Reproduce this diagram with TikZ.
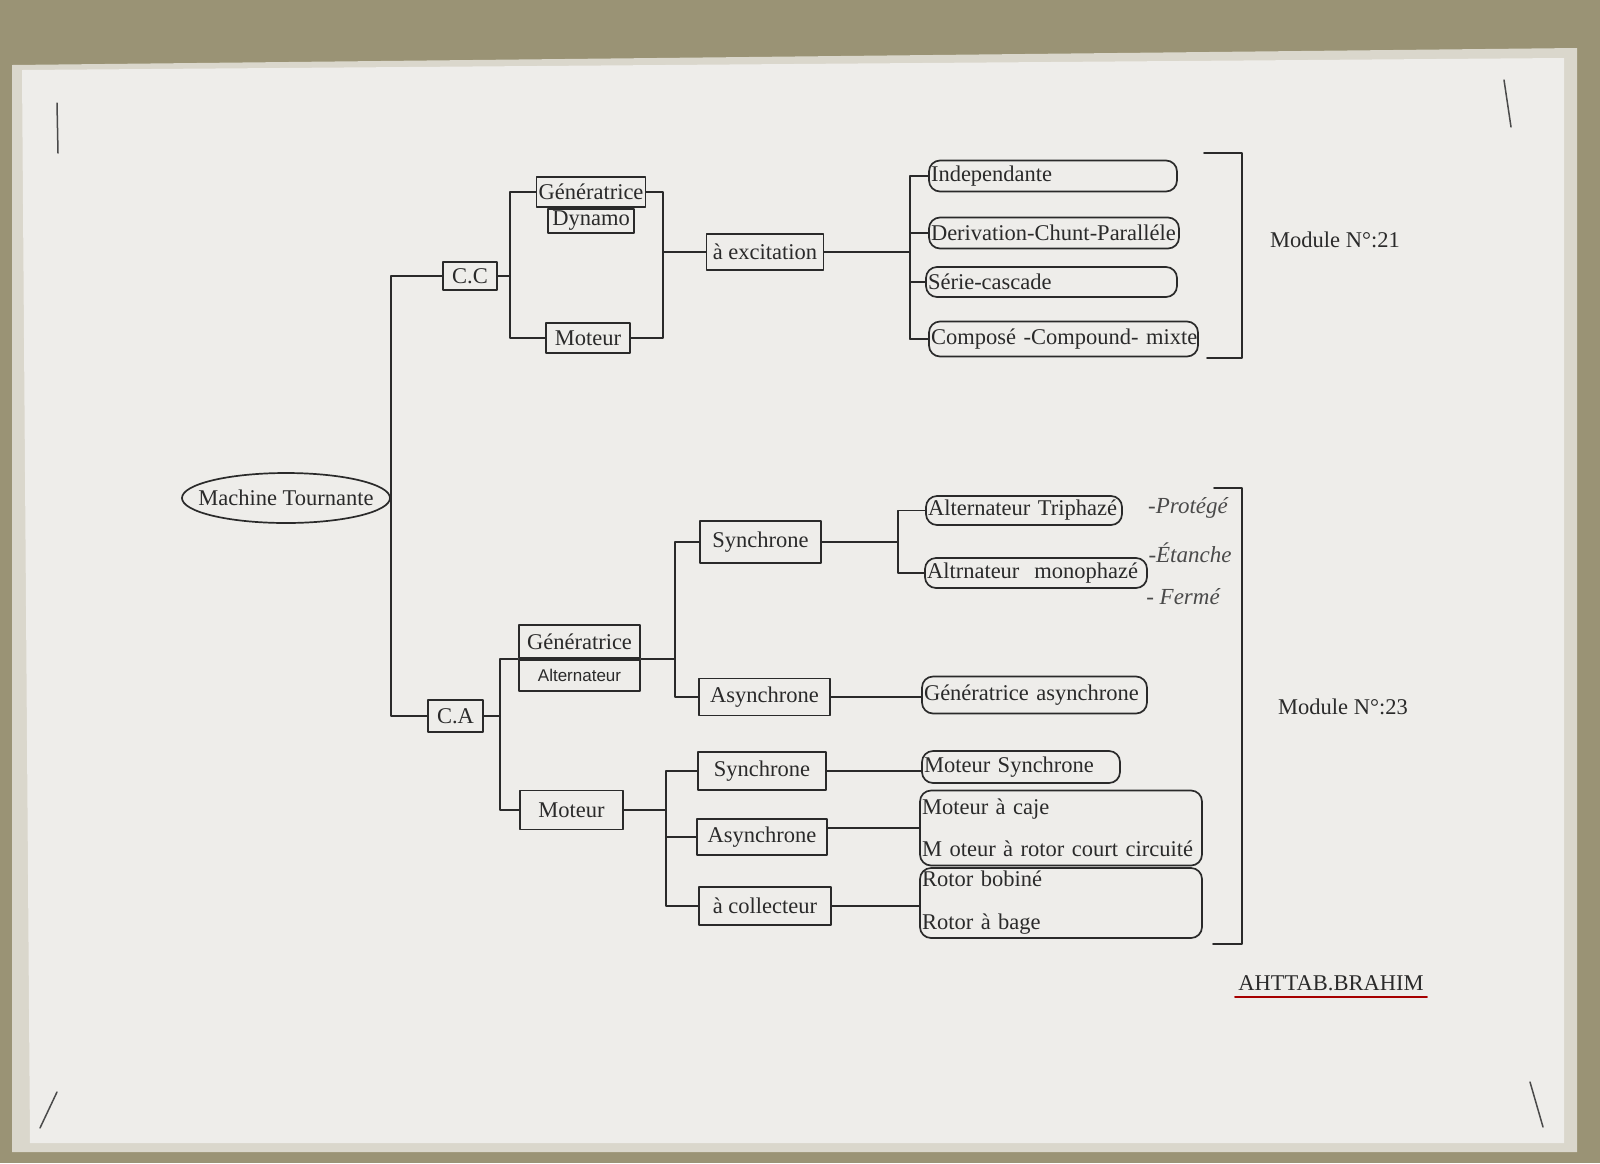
\documentclass[tikz,border=0pt]{standalone}
\usepackage{fontspec}
\setmainfont{Liberation Serif}
\setsansfont{Liberation Sans}
\usetikzlibrary{positioning,shapes.geometric}
\definecolor{ink}{HTML}{2A2A2A}
\definecolor{sheet}{HTML}{EEEDEA}
\definecolor{band}{HTML}{DAD7CC}
\definecolor{frame}{HTML}{9A9375}
\definecolor{pencil}{HTML}{4A4A4A}
\exhyphenpenalty=10000
\hyphenpenalty=10000

\begin{document}
\begin{tikzpicture}[x=1pt,y=-1pt,line cap=round,line join=round,
  every node/.style={font=\fontsize{22.5}{27}\selectfont,text=ink},
  lbl/.style={draw=ink,line width=1.7pt,inner sep=2pt},
  sq/.style 2 args={lbl,minimum width=#1,minimum height=#2},
  rnd/.style 2 args={lbl,rounded corners=11pt,align=left,inner xsep=2pt,text width=#1,minimum height=#2},
  wire/.style={draw=ink,line width=1.8pt},
  note/.style={font=\itshape\fontsize{23}{26}\selectfont,text=pencil}]
  \useasboundingbox (0,0) rectangle (1600,1163);
  % paper
  \fill[frame] (0,0) rectangle (1600,1163);
  \fill[band] (12,65) -- (1577,48) -- (1577,1152) -- (12,1152) -- cycle;
  \fill[sheet] (22,70) -- (1564,58) -- (1564,1143) -- (30,1143) -- cycle;
  \draw[pencil,line width=1.5pt] (57,103) -- (58,153);
  \draw[pencil,line width=1.5pt] (1504,80) -- (1511,127);
  \draw[pencil,line width=1.5pt] (40,1128) -- (57,1092);
  \draw[pencil,line width=1.5pt] (1530,1082) -- (1543,1127);

  \node[ellipse,draw=ink,line width=1.7pt,minimum width=208,minimum height=50,inner xsep=-15pt,inner ysep=0pt] (mt) at (286,498) {Machine Tournante};

  % C.C
  \node[sq={54}{28}] (cc) at (470,276) {C.C};
  \node[sq={108}{30}] (gen) at (591,192) {Génératrice};
  \node[sq={86}{24},below=0pt of gen] (dyn) {Dynamo};
  \node[sq={84}{30}] (motcc) at (588,338) {Moteur};
  \node[sq={117}{36}] (exc) at (765,252) {à excitation};
  \node[rnd={244}{31}] (ind) at (1053,176) {Independante};
  \node[rnd={246}{31}] (der) at (1054,233) {Derivation-Chunt-Paralléle};
  \node[rnd={247}{30}] (ser) at (1051.5,282) {Série-cascade};
  \node[rnd={265}{35}] (comp) at (1063.5,339) {Composé~-Compound-~mixte};

  % C.A
  \node[sq={55}{32}] (ca) at (455.5,716) {C.A};
  \node[sq={121}{33}] (gca) at (579.5,641.5) {Génératrice};
  \node[sq={121}{31},below=0pt of gca,font=\sffamily\fontsize{17}{20}\selectfont] (alt) {Alternateur};
  \node[sq={121}{42}] (syn1) at (760.5,542) {Synchrone};
  \node[sq={131}{37}] (asy1) at (764.5,697) {Asynchrone};
  \node[rnd={192}{29}] (tri) at (1024,510.5) {Alternateur~Triphazé};
  \node[rnd={218}{30}] (mono) at (1036,573) {Altrnateur~~monophazé};
  \node[rnd={221}{37}] (gasy) at (1034.5,695) {Génératrice~asynchrone};
  \node[sq={103}{39}] (motca) at (571.5,810) {Moteur};
  \node[sq={128}{38}] (syn2) at (762,771) {Synchrone};
  \node[sq={130}{36}] (asy2) at (762,837) {Asynchrone};
  \node[sq={132}{38}] (col) at (765,906) {à collecteur};
  \node[rnd={194}{32}] (msyn) at (1021,767) {Moteur~Synchrone};
  \node[rnd={278}{75},font=\fontsize{22.5}{42}\selectfont] (cage) at (1061,828) {Moteur~à~caje\\M~oteur~à~rotor~court~circuité};
  \node[rnd={278}{70},font=\fontsize{22.5}{43}\selectfont] (rot) at (1061,903) {Rotor~bobiné\\Rotor~à~bage};

  % wires
  \draw[wire] (cc.west) -| (mt.east) |- (ca.west);
  \coordinate (b1) at (510,0);
  \draw[wire] (cc.east) -- (cc.east -| b1);
  \draw[wire] (gen.west) -| (b1 |- motcc.west) -- (motcc.west);
  \coordinate (b2) at (663,0);
  \draw[wire] (gen.east) -| (b2 |- motcc.east) -- (motcc.east);
  \draw[wire] (exc.west) -- (exc.west -| b2);
  \coordinate (b3) at (910,0);
  \draw[wire] (exc.east) -- (exc.east -| b3);
  \draw[wire] (b3 |- ind.west) -- (b3 |- comp.west);
  \foreach \n in {ind,der,ser,comp}
    \draw[wire] (\n.west) -- (\n.west -| b3);

  \coordinate (b4) at (500,0);
  \draw[wire] (ca.east) -- (ca.east -| b4);
  \draw[wire] (alt.north west) -| (b4 |- motca.west) -- (motca.west);
  \coordinate (b5) at (675,0);
  \draw[wire] (alt.north east) -- (alt.north east -| b5);
  \draw[wire] (syn1.west) -| (b5 |- asy1.west) -- (asy1.west);
  \coordinate (b6) at (898,0);
  \draw[wire] (syn1.east) -- (syn1.east -| b6);
  \draw[wire] (tri.west) -| (b6 |- mono.west) -- (mono.west);
  \draw[wire] (asy1.east) -- (asy1.east -| gasy.west);
  \coordinate (b7) at (666,0);
  \draw[wire] (motca.east) -- (motca.east -| b7);
  \draw[wire] (syn2.west) -| (b7 |- col.west) -- (col.west);
  \draw[wire] (asy2.west) -- (asy2.west -| b7);
  \draw[wire] (syn2.east) -- (syn2.east -| msyn.west);
  \draw[wire] (asy2.east |- cage.west) -- (cage.west);
  \draw[wire] (col.east) -- (col.east -| rot.west);

  % brackets
  \draw[wire] (1204,153) -| (1242,358) -- (1207,358);
  \draw[wire] (1214,488) -| (1242,944) -- (1213,944);
  \node (m21) at (1335,240) {Module N°:21};
  \node (m23) at (1343,707) {Module N°:23};

  \node[note] (n1) at (1188,508) {-Protégé};
  \node[note] (n2) at (1190,553) {-Étanche};
  \node[note] (n3) at (1183,597) {- Fermé};

  \node (auth) at (1331,983) {AHTTAB.BRAHIM};
  \draw[red!65!black,line width=1.6pt] ([yshift=-7pt]auth.base west) -- ([yshift=-7pt]auth.base east);
\end{tikzpicture}
\end{document}
